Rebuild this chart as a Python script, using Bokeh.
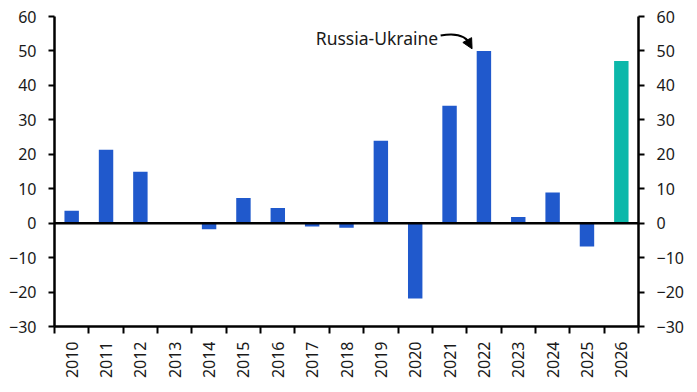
from bokeh.plotting import figure
from bokeh.models import (Range1d, LinearAxis, FixedTicker, Span, Label, Arrow,
                          NormalHead, ColumnDataSource)
from bokeh.embed import file_html
from bokeh.resources import INLINE
import math

# ---- data ----
years = ["2010", "2011", "2012", "2013", "2014", "2015", "2016", "2017", "2018",
         "2019", "2020", "2021", "2022", "2023", "2024", "2025", "2026"]
values = [3.6, 21.3, 14.9, 0.0, -1.8, 7.3, 4.4, -1.0, -1.3,
          23.9, -21.9, 34.1, 50.0, 1.8, 8.9, -6.8, 47.1]
forecast = [False] * 16 + [True]
y_ticks = [-30, -20, -10, 0, 10, 20, 30, 40, 50, 60]

BLUE = "#2059CC"
TEAL = "#0CB8AA"
FONT = "Noto Sans"
TXT = "#1a1a1a"

n = len(years)
centers = [i + 0.5 for i in range(n)]
bounds = [float(i) for i in range(n + 1)]
colors = [TEAL if f else BLUE for f in forecast]

src = ColumnDataSource(dict(x=centers, top=values, color=colors, year=years))

p = figure(width=697, height=392, output_backend="svg", toolbar_location=None,
           x_range=Range1d(0, n), y_range=Range1d(-30, 60),
           min_border_left=54, min_border_right=59, min_border_top=16,
           min_border_bottom=66, x_axis_location="below")
p.outline_line_color = None
p.xgrid.visible = False
p.ygrid.visible = False
p.background_fill_color = "white"
p.border_fill_color = "white"

p.vbar(x="x", top="top", bottom=0, width=0.42, color="color", line_color=None,
       source=src)

# zero line
p.add_layout(Span(location=0, dimension="width", line_color="black", line_width=2.5))

# x axis: labels at centers, ticks at category boundaries
xa = p.xaxis[0]
xa.ticker = FixedTicker(ticks=centers, minor_ticks=bounds)
xa.major_label_overrides = {c: y for c, y in zip(centers, years)}
xa.major_tick_line_color = None
xa.minor_tick_line_color = "black"
xa.minor_tick_line_width = 2
xa.minor_tick_out = 7
xa.minor_tick_in = 0
xa.axis_line_width = 2.5
xa.axis_line_color = "black"
xa.major_label_orientation = math.pi / 2
xa.major_label_standoff = 8
xa.major_label_text_font = FONT
xa.major_label_text_font_size = "16px"
xa.major_label_text_color = TXT


def style_y(ax):
    ax.ticker = FixedTicker(ticks=y_ticks)
    ax.major_tick_out = 6
    ax.major_tick_in = 0
    ax.major_tick_line_width = 2
    ax.major_tick_line_color = "black"
    ax.minor_tick_line_color = None
    ax.axis_line_width = 2.5
    ax.axis_line_color = "black"
    ax.major_label_standoff = 12
    ax.major_label_text_font = FONT
    ax.major_label_text_font_size = "16px"
    ax.major_label_text_color = TXT


style_y(p.yaxis[0])
right = LinearAxis()
style_y(right)
p.add_layout(right, "right")

# annotation
p.add_layout(Label(x=11.17, y=53.9, text="Russia-Ukraine", text_align="right",
                   text_baseline="middle", text_font=FONT, text_font_size="17.5px",
                   text_color=TXT))
p.bezier(x0=[11.24], y0=[54.48], x1=[12.12], y1=[51.6], cx0=[11.70], cy0=[55.35],
         cx1=[11.99], cy1=[54.6], line_color="black", line_width=2)
p.add_layout(Arrow(end=NormalHead(size=10, fill_color="black", line_color="black"),
                   x_start=11.99, y_start=53.6, x_end=12.155, y_end=50.62,
                   line_color=None))

open("out.html", "w").write(file_html(p, INLINE))
